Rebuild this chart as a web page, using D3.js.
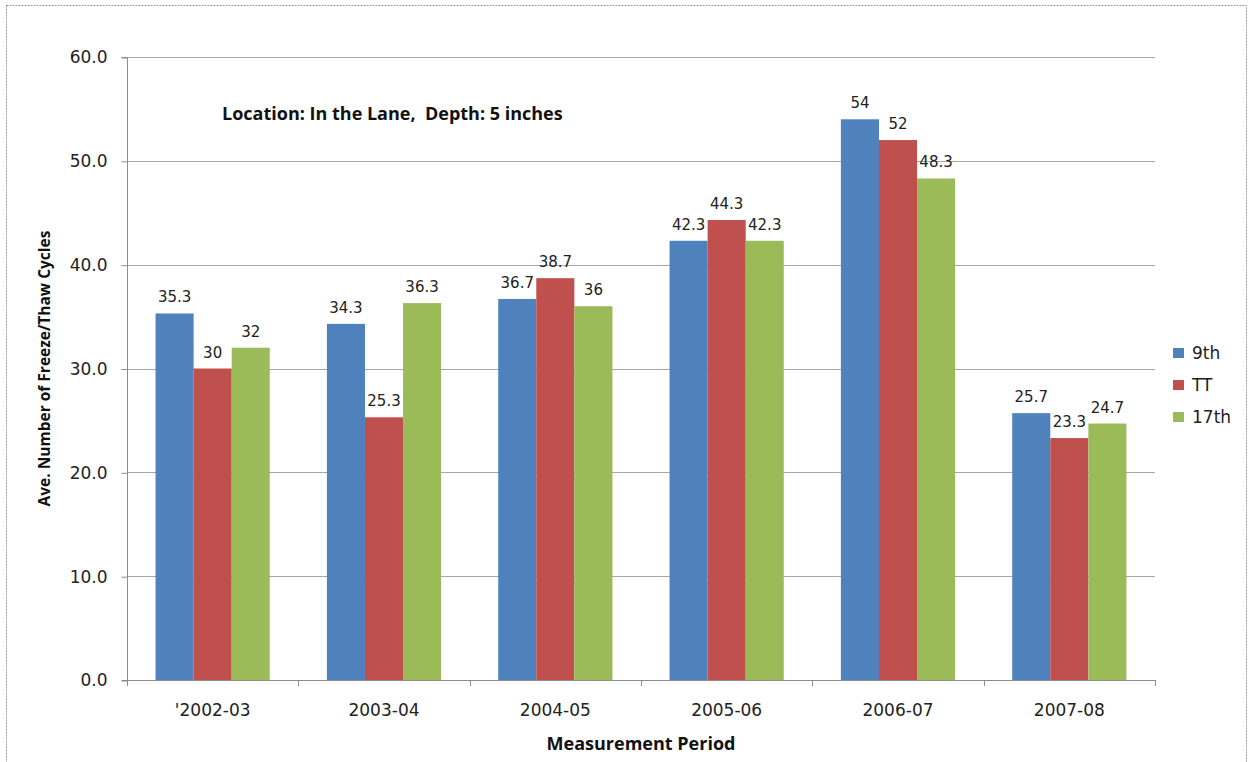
<!DOCTYPE html>
<html>
<head>
<meta charset="utf-8">
<script src="https://cdn.jsdelivr.net/npm/d3@7/dist/d3.min.js"></script>
<style>
html,body{margin:0;padding:0;background:#fff;}
svg{display:block;}
</style>
</head>
<body>
<svg id="chart" width="1249" height="762"></svg>
<script>
const categories = ["'2002-03", "2003-04", "2004-05", "2005-06", "2006-07", "2007-08"];
const seriesNames = ["9th", "TT", "17th"];
const values9th = [35.3, 34.3, 36.7, 42.3, 54, 25.7];
const valuesTT = [30, 25.3, 38.7, 44.3, 52, 23.3];
const values17th = [32, 36.3, 36, 42.3, 48.3, 24.7];
const yTicks = [0, 10, 20, 30, 40, 50, 60];
const colors = ["#4F81BD", "#C0504D", "#9BBB59"];
const annotation = "Location: In the Lane,  Depth: 5 inches";
const xTitle = "Measurement Period";
const yTitle = "Ave. Number of Freeze/Thaw Cycles";

(function () {
const seriesValues = [values9th, valuesTT, values17th];
const svg = d3.select("#chart");
const FONT = "DejaVu Sans, Verdana, sans-serif";
const BOLD = "Open Sans, sans-serif";

// outer frame
svg.append("rect").attr("x", 6.5).attr("y", 5.5).attr("width", 1240).attr("height", 780)
  .attr("fill", "none").attr("stroke", "#9a9a9a").attr("stroke-dasharray", "2,1").attr("stroke-width", 1);

const pL = 127, pR = 1155, pT = 57, pB = 680;
const x = d3.scaleBand().domain(categories).range([pL, pR]).paddingInner(0).paddingOuter(0);
const inner = d3.scaleBand().domain(seriesNames).range([0, x.bandwidth()]).paddingInner(0).paddingOuter(0.75);
const y = d3.scaleLinear().domain([0, 60]).range([pB, pT]);

// gridlines
svg.append("g").selectAll("line").data(yTicks.filter(d => d > 0)).join("line")
  .attr("x1", pL).attr("x2", pR)
  .attr("y1", d => Math.round(y(d)) + 0.5).attr("y2", d => Math.round(y(d)) + 0.5)
  .attr("stroke", "#a6a6a6").attr("stroke-width", 1);

// y axis
const yAxis = d3.axisLeft(y).tickValues(yTicks).tickSize(6).tickPadding(14).tickFormat(d3.format(".1f"));
const gy = svg.append("g").attr("transform", `translate(${pL + 0.5},0.5)`).call(yAxis);
gy.select(".domain").attr("stroke", "#8c8c8c").attr("d", `M-6,${y(60)}H0V${y(0)}H-6`);
gy.selectAll(".tick line").attr("stroke", "#8c8c8c");
gy.selectAll(".tick text").attr("font-family", FONT).attr("font-size", 17).attr("fill", "#222");

// bars
const groups = svg.append("g").selectAll("g").data(seriesNames).join("g").attr("fill", (d, i) => colors[i]);
groups.each(function(s, si) {
  d3.select(this).selectAll("rect").data(seriesValues[si]).join("rect")
    .attr("x", (d, i) => x(categories[i]) + inner(s))
    .attr("width", inner.bandwidth())
    .attr("y", d => y(d))
    .attr("height", d => y(0) - y(d));
});

// x axis
const xAxis = d3.axisBottom(x).tickSize(0).tickPadding(23);
const gx = svg.append("g").attr("transform", `translate(0,${pB + 0.5})`).call(xAxis);
gx.select(".domain").attr("stroke", "#8c8c8c").attr("d", `M${pL},0H${pR}`);
gx.selectAll(".tick text").attr("font-family", FONT).attr("font-size", 17).attr("fill", "#222");
// category boundary ticks
svg.append("g").selectAll("line").data(d3.range(categories.length + 1)).join("line")
  .attr("x1", i => Math.round(pL + i * x.step()) + 0.5).attr("x2", i => Math.round(pL + i * x.step()) + 0.5)
  .attr("y1", pB).attr("y2", pB + 6).attr("stroke", "#8c8c8c");

// data labels
groups.each(function(s, si) {
  d3.select(this).selectAll("text").data(seriesValues[si]).join("text")
    .attr("x", (d, i) => x(categories[i]) + inner(s) + inner.bandwidth() / 2)
    .attr("y", d => y(d) - 11)
    .attr("text-anchor", "middle")
    .attr("font-family", FONT).attr("font-size", 15).attr("fill", "#222")
    .text(d => d);
});

// annotation
svg.append("text").attr("x", 222).attr("y", 120).attr("font-family", BOLD)
  .style("white-space", "pre")
  .attr("font-weight", 700).attr("font-size", 18).attr("fill", "#111").text(annotation);

// axis titles
svg.append("text").attr("x", (pL + pR) / 2).attr("y", 750).attr("text-anchor", "middle")
  .attr("font-family", BOLD).attr("font-weight", 700).attr("font-size", 18).attr("fill", "#111").text(xTitle);
svg.append("text").attr("transform", `translate(50,${(pT + pB) / 2}) rotate(-90)`).attr("text-anchor", "middle")
  .attr("font-family", BOLD).attr("font-weight", 700).attr("font-size", 15.5).attr("fill", "#111").text(yTitle);

// legend
const lg = svg.append("g").selectAll("g").data(seriesNames).join("g")
  .attr("transform", (d, i) => `translate(1173,${353 + i * 32})`);
lg.append("rect").attr("x", 0).attr("y", -5).attr("width", 11).attr("height", 10).attr("fill", (d, i) => colors[i]);
lg.append("text").attr("x", 19).attr("y", 6).attr("font-family", FONT)
  .attr("font-size", 17).attr("fill", "#222").text(d => d);
})();
</script>
</body>
</html>
